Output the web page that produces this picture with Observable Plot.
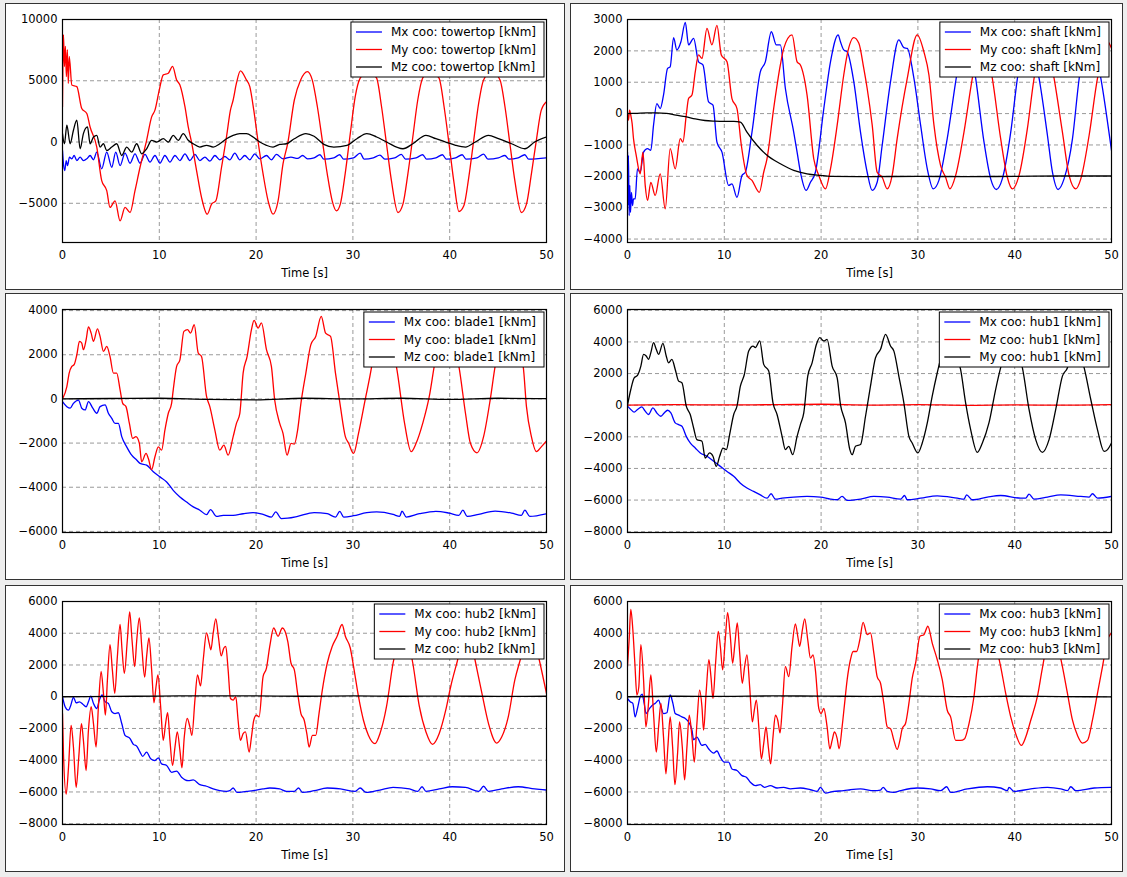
<!DOCTYPE html>
<html><head><meta charset="utf-8">
<script src="https://cdn.jsdelivr.net/npm/d3@7"></script>
<script src="https://cdn.jsdelivr.net/npm/@observablehq/plot@0.6"></script>
<style>
html,body{margin:0;padding:0;}
body{background:#eeeeee;width:1127px;height:877px;position:relative;overflow:hidden;font-family:"DejaVu Sans",sans-serif;}
.panel{position:absolute;box-sizing:border-box;border:1px solid #333;background:#fff;}
.panel svg{position:absolute;left:0;top:0;overflow:visible;}
</style></head><body>
<script>
// ---------- data (time [s], moment [kNm]) ----------
const timeTicks = [0, 10, 20, 30, 40, 50];

const towertopMx = [[0,-690],[0.1,-1780],[0.24,-2330],[0.38,-1510],[0.52,-1920],[0.72,-1230],[0.96,-1370],[1.2,-1100],[1.48,-1510],[1.82,-1230],[2.16,-1510],[2.51,-1370],[2.85,-1100],[3.2,-1450],[3.54,-820],[4.05,-2190],[4.57,-820],[5.09,-2060],[5.5,-820],[5.95,-1920],[6.46,-900],[6.98,-1730],[7.49,-960],[8.01,-1730],[8.52,-1010],[9.04,-1640],[9.55,-1100],[10.07,-1730],[10.58,-1100],[11.1,-1640],[11.62,-1100],[12.13,-1510],[12.65,-960],[13.16,-1510],[13.68,-1010],[14.19,-1510],[14.71,-1230],[15.22,-1560],[15.74,-1100],[16.25,-1450],[16.77,-1180],[17.28,-1450],[17.8,-900],[18.32,-1450],[18.83,-1100],[19.35,-1450],[19.86,-960],[20.38,-1370],[21.07,-1100],[21.58,-1450],[22.1,-1010],[22.78,-1370],[23.6,-1230],[24.29,-1340],[24.8,-1100],[25.31,-1370],[25.99,-1290],[26.6,-1040],[27.0,-1400],[28.03,-1290],[28.64,-1040],[29.05,-1400],[30.07,-1290],[30.75,-900],[31.16,-1400],[32.11,-1290],[32.79,-1070],[33.3,-1400],[34.32,-1290],[35.0,-1010],[35.44,-1400],[36.53,-1290],[37.21,-1040],[37.62,-1400],[38.57,-1290],[39.25,-1040],[39.66,-1400],[40.61,-1290],[41.29,-1040],[41.7,-1400],[42.82,-1290],[43.5,-990],[43.95,-1400],[45.03,-1290],[45.71,-1100],[46.12,-1400],[47.07,-1290],[47.76,-1040],[48.16,-1400],[50,-1290]];
const towertopMy = [[0,2880],[0.1,8770],[0.2,6160],[0.3,7810],[0.4,5340],[0.5,7530],[0.6,4790],[0.7,6990],[0.96,4660],[1.48,4520],[1.99,2740],[2.51,2330],[2.85,1230],[3.54,-410],[4.05,-3150],[4.57,-3970],[4.91,-5340],[5.43,-4800],[5.95,-6440],[6.46,-5340],[6.98,-5750],[7.49,-3970],[8.01,-2060],[8.69,140],[9.21,2050],[9.55,2600],[10.0,4250],[10.41,5480],[10.93,5620],[11.37,6170],[11.79,5070],[12.13,4660],[12.65,2880],[12.99,1230],[13.33,0],[13.85,-2330],[14.36,-4520],[14.95,-5890],[15.4,-5070],[15.84,-4800],[16.43,-2060],[16.94,410],[17.35,2600],[17.63,3430],[17.97,4800],[18.38,5810],[19.0,5070],[19.35,4520],[19.76,2600],[20.21,0],[20.72,-2600],[21.24,-4800],[21.75,-5890],[22.27,-4800],[22.78,-1780],[23.26,-140],[23.95,3430],[24.6,5070],[25.3,5750],[25.8,5070],[26.33,2880],[26.84,140],[27.35,-2600],[27.86,-4800],[28.3,-5620],[28.7,-5070],[29.2,-2600],[29.73,690],[30.24,3700],[30.75,5210],[31.6,5800],[32.45,5210],[32.96,2880],[33.47,-140],[33.98,-3150],[34.66,-5750],[35.17,-5070],[35.68,-2600],[36.19,410],[36.7,3430],[37.2,5210],[37.95,5800],[38.9,5210],[39.42,2880],[39.93,-140],[40.44,-3290],[40.95,-5670],[41.46,-5210],[41.97,-2880],[42.48,140],[42.99,3150],[43.5,5070],[44.35,5800],[45.2,5070],[45.71,2880],[46.22,-140],[46.73,-3150],[47.41,-5750],[47.93,-5070],[48.44,-2600],[48.95,140],[49.46,2600],[50,3300]];
const towertopMz = [[0,690],[0.2,-140],[0.45,1370],[0.79,-140],[1.13,960],[1.48,1780],[1.82,-550],[2.16,690],[2.58,1230],[2.85,-140],[3.2,410],[3.54,550],[3.88,-410],[4.23,-140],[4.57,-690],[5.09,-410],[5.6,-140],[6.12,-1100],[6.63,-410],[7.15,-820],[7.66,-140],[8.18,-960],[8.69,-550],[9.21,140],[9.73,0],[10.41,270],[10.93,0],[11.44,550],[11.96,140],[12.47,690],[12.99,140],[13.51,-140],[14.19,-410],[14.88,-270],[15.57,-410],[16.25,-140],[16.94,270],[17.63,550],[18.32,690],[19.0,690],[19.69,410],[20.38,0],[21.07,-270],[21.75,-410],[22.44,-190],[23.13,-140],[23.95,270],[25.14,690],[25.99,470],[27.0,-190],[28.03,-410],[29.39,-270],[30.41,270],[31.43,690],[32.45,410],[33.47,0],[35.17,-550],[36.19,-140],[37.55,550],[38.57,270],[39.59,0],[40.61,-270],[41.63,-410],[42.65,0],[44.01,550],[45.03,270],[46.39,-140],[47.76,-550],[48.78,0],[50,410]];

const shaftMx = [[0,-1230],[0.03,-2930],[0.1,-1330],[0.17,-3250],[0.24,-2290],[0.31,-3150],[0.41,-2510],[0.52,-2930],[0.62,-2720],[0.79,-2720],[1.03,-1760],[1.31,-1870],[1.66,-1230],[2.07,-1120],[2.41,-1170],[2.69,-370],[3.03,320],[3.38,160],[3.72,590],[4.14,1440],[4.41,1490],[4.76,2420],[5.1,2030],[5.52,2290],[5.97,2910],[6.31,2190],[6.83,2400],[7.34,1650],[7.79,1550],[8.38,370],[8.83,270],[9.24,-910],[9.76,-1230],[10.45,-2290],[10.79,-2240],[11.31,-2670],[11.83,-1970],[12.17,-1870],[12.86,-590],[13.72,1330],[14.24,1650],[14.86,2610],[15.38,2190],[15.79,2190],[16.31,800],[17.17,-590],[17.52,-1230],[17.93,-1970],[18.45,-2450],[18.9,-2190],[19.41,-1870],[20.28,160],[20.97,1650],[21.76,2510],[22.0,2290],[22.34,2030],[22.69,1970],[23.38,1010],[24.07,-590],[24.76,-1870],[25.28,-2450],[25.79,-2190],[26.31,-1010],[27.17,1010],[28.03,2350],[28.55,2100],[28.9,2080],[29.59,1120],[30.28,-370],[30.97,-1760],[31.59,-2400],[32.17,-2130],[33.03,-800],[33.9,1010],[34.59,2290],[34.95,2450],[35.4,2200],[35.97,1120],[36.83,-910],[37.52,-2080],[38.1,-2420],[38.72,-2080],[39.59,-590],[40.28,1120],[41.1,2450],[41.7,2200],[42.52,1120],[43.38,-690],[43.9,-1870],[44.48,-2420],[45.1,-2080],[45.97,-800],[46.66,1120],[47.5,2450],[48.1,2200],[48.9,1120],[49.59,-270],[50,-1170]];
const shaftMy = [[0,0],[0.1,-210],[0.21,110],[0.34,-50],[0.48,-320],[0.62,-800],[0.9,-1330],[1.31,-1920],[1.59,-1230],[1.83,-2290],[2.07,-2770],[2.41,-2190],[2.86,-2610],[3.38,-1920],[3.9,-3040],[4.41,-1120],[4.93,-1760],[5.45,-800],[5.72,-910],[6.07,-50],[6.31,480],[6.66,590],[7.0,1330],[7.34,1870],[7.69,1760],[8.21,2720],[8.72,2190],[9.24,2810],[9.69,1870],[10.28,1650],[10.79,480],[11.31,160],[11.76,-1010],[12.34,-1970],[12.86,-2130],[13.62,-2510],[14.07,-1870],[14.41,-1440],[15.1,160],[15.79,1550],[16.14,2080],[17.0,2510],[17.52,1650],[17.86,1550],[18.55,590],[19.24,-1440],[19.76,-1970],[20.45,-2400],[20.97,-1760],[21.66,-370],[22.34,1230],[22.69,1870],[23.38,2420],[23.9,2240],[24.41,1440],[24.76,800],[25.28,-370],[25.79,-1870],[26.31,-2030],[26.83,-2400],[27.34,-1970],[27.86,-800],[28.9,1120],[29.93,2510],[30.62,1970],[31.14,1230],[31.66,-370],[32.34,-1650],[32.86,-2030],[33.31,-2400],[33.9,-1970],[34.76,-590],[35.62,1120],[36.5,2450],[37.0,2200],[37.69,1120],[38.55,-800],[39.24,-2030],[39.76,-2400],[40.45,-1970],[41.31,-480],[42.0,1120],[42.9,2450],[43.4,2200],[44.07,1120],[44.93,-590],[45.62,-1970],[46.31,-2400],[46.83,-2080],[47.69,-690],[48.55,1120],[49.59,2290],[50,2080]];
const shaftMz = [[0,0],[1,10],[2,20],[3,20],[4,10],[5,-50],[6,-100],[7,-170],[8,-220],[9,-240],[10,-250],[11,-250],[11.66,-270],[12.34,-590],[13.38,-1010],[14.41,-1330],[15.79,-1600],[17.17,-1810],[18.55,-1920],[19.93,-1970],[21,-2000],[25,-2010],[30,-2000],[35,-2010],[40,-2000],[45,-1990],[50,-1990]];

const blade1Mx = [[0,-120],[0.45,-350],[0.79,-420],[1.13,-200],[1.65,-50],[1.99,-420],[2.34,-500],[2.68,-120],[3.13,-420],[3.54,-650],[3.88,-350],[4.4,-270],[4.74,-650],[5.09,-880],[5.43,-1110],[5.77,-1110],[6.12,-1710],[6.63,-2170],[7.15,-2550],[7.66,-2770],[8.01,-2920],[8.69,-3000],[9.38,-3300],[10.07,-3530],[10.76,-3760],[11.44,-4140],[12.13,-4440],[12.82,-4670],[13.51,-4890],[14.19,-5040],[14.88,-5240],[15.29,-5010],[15.91,-5320],[16.6,-5270],[17.63,-5270],[18.66,-5200],[19.69,-5150],[20.72,-5230],[21.58,-5350],[22.03,-5120],[22.61,-5420],[23.27,-5400],[24.29,-5320],[25.99,-5150],[27.35,-5200],[28.2,-5350],[28.64,-5090],[29.05,-5350],[30.07,-5290],[31.43,-5150],[32.45,-5120],[34.15,-5230],[34.83,-5320],[35.07,-5080],[35.51,-5350],[36.87,-5200],[38.57,-5090],[39.93,-5170],[40.95,-5270],[41.36,-5040],[41.8,-5320],[42.99,-5230],[44.69,-5080],[46.39,-5170],[47.41,-5270],[47.76,-5040],[48.27,-5320],[50,-5200]];
const blade1My = [[0,0],[0.45,560],[0.69,1170],[0.96,1470],[1.2,1550],[1.48,2000],[1.75,2610],[1.99,2530],[2.16,2230],[2.44,2680],[2.68,3260],[2.96,2980],[3.2,2610],[3.61,3170],[3.88,2830],[4.23,2150],[4.57,2380],[4.91,1920],[5.26,1170],[5.6,1170],[5.95,410],[6.22,-200],[6.56,-350],[6.91,-1110],[7.25,-1790],[7.59,-1710],[7.94,-2010],[8.18,-2850],[8.63,-2470],[8.87,-2700],[9.21,-3200],[9.55,-2620],[9.9,-2170],[10.24,-2320],[10.58,-1410],[10.93,-650],[11.27,-200],[11.44,410],[11.79,1470],[12.13,1770],[12.54,3060],[12.92,3140],[13.23,2980],[13.61,3360],[14.02,2080],[14.36,1920],[14.88,110],[15.22,-350],[15.74,-1410],[16.25,-2320],[16.67,-2090],[17.11,-2550],[17.63,-1710],[17.97,-1110],[18.32,-650],[18.66,1170],[19.07,1920],[19.52,3140],[19.79,3560],[20.21,3210],[20.55,3440],[21.07,2230],[21.58,1470],[21.92,-50],[22.44,-1110],[22.78,-1560],[23.2,-2550],[23.61,-2010],[23.95,-2050],[24.29,-1410],[24.63,-200],[25.14,1170],[25.65,2450],[26.16,2830],[26.73,3740],[27.18,2980],[27.69,2830],[28.2,1170],[28.71,-350],[29.22,-1710],[29.56,-2010],[30.07,-2470],[30.58,-1560],[31.26,-50],[31.94,1470],[32.6,3500],[33.2,3000],[34.49,1470],[35.34,-1110],[36.02,-2390],[36.53,-2010],[37.21,-1110],[37.89,110],[38.4,1470],[39.3,3500],[39.9,3000],[40.95,1470],[41.63,-650],[42.14,-2010],[42.82,-2440],[43.5,-1710],[44.18,-50],[44.69,1470],[45.8,3500],[46.5,3000],[47.59,1470],[47.93,-350],[48.44,-1710],[48.95,-2390],[49.46,-2170],[50,-1900]];
const blade1Mz = [[0,0],[5,20],[10,30],[15,-20],[20,-40],[25,30],[30,0],[35,30],[40,-20],[45,30],[50,10]];

const hub1Mx = [[0,-60],[0.34,-270],[0.69,-440],[1.03,-270],[1.48,-110],[1.83,-380],[2.17,-590],[2.62,-170],[3.03,-490],[3.45,-700],[3.79,-490],[4.14,-320],[4.48,-490],[4.93,-1120],[5.28,-1230],[5.62,-1330],[6.07,-1970],[6.48,-2390],[7.0,-2710],[7.52,-3020],[8.21,-3230],[8.9,-3550],[9.59,-3870],[10.28,-4190],[10.97,-4500],[11.66,-4930],[12.34,-5240],[13.03,-5450],[13.72,-5670],[14.41,-5880],[14.83,-5600],[15.28,-5940],[15.97,-5880],[17.17,-5810],[18.55,-5770],[19.93,-5810],[20.97,-5940],[21.66,-5980],[22.17,-5770],[22.69,-6020],[24.07,-5940],[25.45,-5770],[26.83,-5810],[28.21,-5940],[28.62,-5710],[28.9,-5980],[30.28,-5880],[32.0,-5730],[34.07,-5880],[34.76,-5940],[35.03,-5670],[35.62,-5980],[37.17,-5810],[38.55,-5710],[40.62,-5880],[41.14,-5880],[41.48,-5620],[42.0,-5940],[43.38,-5810],[44.76,-5670],[46.83,-5770],[47.69,-5810],[48.03,-5600],[48.55,-5880],[50,-5770]];
const hub1Mz = [[0,0],[5,30],[10,20],[15,30],[20,60],[25,10],[30,40],[35,-10],[40,20],[45,0],[50,30]];
const hub1My = [[0,0],[0.34,990],[0.69,1730],[1.03,1880],[1.38,2470],[1.66,3210],[1.93,3110],[2.17,2900],[2.41,3320],[2.69,3950],[2.97,3530],[3.21,3210],[3.66,3910],[4.0,3110],[4.24,2680],[4.59,2900],[4.93,2260],[5.28,1520],[5.62,1420],[6.07,-60],[6.48,-590],[6.83,-1440],[7.17,-2180],[7.69,-2280],[8.03,-3340],[8.48,-3020],[8.83,-3230],[9.17,-3870],[9.52,-3230],[9.86,-2710],[10.21,-2810],[10.55,-1860],[10.97,-590],[11.31,-60],[11.66,1200],[12.07,1940],[12.52,3420],[12.97,3740],[13.21,3640],[13.66,4060],[14.07,2580],[14.59,2160],[15.03,150],[15.45,-590],[15.97,-1970],[16.31,-2810],[16.66,-2600],[17.07,-3130],[17.52,-1970],[17.86,-1230],[18.21,-490],[18.62,1840],[19.07,2680],[19.52,3850],[19.86,4270],[20.28,4060],[20.62,4160],[21.14,2470],[21.66,1730],[22.0,40],[22.52,-1120],[22.97,-2810],[23.21,-3130],[23.55,-2600],[24.07,-2490],[24.59,-700],[25.1,1200],[25.62,3000],[26.14,3530],[26.66,4480],[27.17,3740],[27.52,3420],[28.03,1840],[28.55,150],[29.07,-1970],[29.41,-2390],[30.0,-3020],[30.45,-2390],[30.97,-1120],[31.48,570],[32.0,2050],[32.52,3320],[33.1,4100],[33.7,3500],[34.41,2260],[34.93,150],[35.45,-1540],[36.14,-2980],[36.66,-2390],[37.34,-1120],[38.03,990],[38.55,2370],[39.5,4100],[40.1,3500],[40.79,2370],[41.48,-270],[42.17,-2180],[42.86,-2980],[43.55,-2180],[44.24,-270],[44.93,1840],[45.45,2370],[46.1,4100],[46.6,3500],[47.17,2370],[47.86,360],[48.55,-1540],[49.24,-2920],[49.59,-2810],[50,-2390]];

const hub2Mx = [[0,0],[0.27,-630],[0.62,-850],[0.86,-530],[1.13,-40],[1.41,-380],[1.75,-320],[2.1,-470],[2.44,-630],[2.68,-320],[2.92,40],[3.2,-420],[3.54,-740],[3.81,-210],[4.09,110],[4.4,-320],[4.74,-420],[5.09,-950],[5.43,-1060],[5.77,-1010],[6.12,-1690],[6.46,-2430],[6.98,-2640],[7.32,-3000],[7.66,-3110],[8.01,-3490],[8.28,-3760],[8.69,-3490],[9.11,-3910],[9.55,-4020],[9.9,-3850],[10.24,-4230],[10.76,-4330],[11.27,-4760],[11.79,-4690],[12.3,-5070],[12.99,-5290],[13.51,-5240],[14.19,-5540],[14.88,-5640],[15.57,-5810],[16.25,-5920],[16.94,-5960],[17.28,-5920],[17.63,-5750],[18.04,-6030],[19.0,-5960],[19.69,-5920],[20.72,-5810],[21.41,-5750],[22.44,-5810],[23.13,-5960],[23.95,-5960],[24.39,-5750],[24.8,-6030],[25.99,-5920],[27.35,-5750],[28.71,-5810],[30.24,-5960],[30.75,-5750],[31.36,-6030],[32.79,-5880],[34.15,-5710],[35.85,-5810],[36.7,-5960],[37.14,-5670],[37.55,-5960],[38.91,-5810],[40.27,-5670],[41.63,-5710],[42.99,-5960],[43.5,-5640],[44.01,-5960],[45.37,-5810],[47.07,-5670],[48.78,-5810],[50,-5880]];
const hub2My = [[0,-1060],[0.1,-3590],[0.38,-6130],[0.62,-4440],[0.89,-1800],[1.13,-3170],[1.41,-5710],[1.68,-3810],[1.96,-1690],[2.16,-2750],[2.44,-4650],[2.68,-2110],[2.96,-630],[3.2,-1690],[3.47,-3170],[3.71,-630],[3.99,1590],[4.23,210],[4.43,-1160],[4.64,1060],[4.91,3280],[5.15,1690],[5.4,210],[5.67,2540],[5.95,4550],[6.15,2960],[6.39,1480],[6.7,3590],[6.94,5350],[7.18,3590],[7.46,1900],[7.66,3490],[7.94,4970],[8.21,2960],[8.49,1230],[8.69,2540],[8.93,3700],[9.21,1690],[9.45,-380],[9.66,630],[9.86,1370],[10.14,-630],[10.41,-2750],[10.65,-1690],[10.86,-1010],[11.1,-2750],[11.37,-4330],[11.62,-3170],[11.86,-2220],[12.13,-3380],[12.34,-4480],[12.58,-2540],[12.89,-1370],[13.16,-1900],[13.37,-2430],[13.68,-210],[13.95,1370],[14.26,680],[14.54,2330],[14.88,4020],[15.15,3380],[15.33,2960],[15.57,4020],[15.84,4900],[16.12,3700],[16.39,2580],[16.67,3070],[16.87,3170],[17.11,1690],[17.35,-110],[17.63,-210],[17.9,0],[18.14,-1480],[18.38,-2750],[18.66,-2330],[18.9,-2220],[19.28,-3490],[19.52,-2540],[19.76,-1480],[20.03,-1160],[20.31,-1270],[20.72,1270],[21.07,1800],[21.41,3170],[21.82,4330],[22.27,3810],[22.71,4330],[23.27,3490],[23.61,2110],[23.95,1690],[24.29,210],[24.63,-1060],[24.97,-1480],[25.24,-2330],[25.48,-3170],[25.82,-2430],[26.16,-2430],[26.5,-1060],[26.84,420],[27.35,2110],[27.86,3170],[28.37,3810],[28.88,4550],[29.22,3810],[29.73,3070],[30.07,1900],[30.58,0],[31.09,-1480],[31.6,-2430],[32.28,-2960],[32.79,-2330],[33.47,-630],[34.15,2110],[35.2,4300],[35.6,3800],[36.19,2110],[36.87,-630],[37.55,-2220],[38.23,-3000],[38.91,-2330],[39.59,-850],[40.1,630],[40.78,2220],[41.7,4300],[42.1,3800],[42.65,2220],[43.33,210],[44.01,-1690],[44.86,-2920],[45.37,-2540],[46.05,-1270],[46.73,1060],[47.24,2220],[48.3,4300],[48.8,3500],[49.29,2220],[50,200]];
const hub2Mz = [[0,0],[5,20],[10,40],[15,60],[20,50],[25,30],[30,50],[35,30],[40,40],[45,20],[50,30]];

const hub3Mx = [[0,-110],[0.28,-320],[0.55,-420],[0.79,-1270],[1.03,-740],[1.31,0],[1.52,170],[1.72,-420],[1.93,-1060],[2.28,-740],[2.69,-470],[2.86,-420],[3.21,-210],[3.45,-630],[3.72,-1060],[4.07,-1010],[4.41,110],[4.69,-420],[4.93,-1060],[5.28,-1160],[5.62,-1270],[5.97,-1370],[6.31,-1590],[6.66,-2110],[6.83,-2710],[7.17,-2540],[7.69,-3070],[8.03,-3000],[8.38,-3280],[8.9,-3550],[9.24,-3420],[9.59,-3810],[10.0,-4120],[10.45,-4120],[10.79,-4550],[11.31,-4650],[11.83,-4970],[12.28,-5070],[12.69,-5390],[13.21,-5600],[13.72,-5540],[14.14,-5710],[14.76,-5600],[15.45,-5750],[16.14,-5710],[16.83,-5810],[17.86,-5750],[18.9,-5860],[19.59,-5960],[19.93,-5710],[20.45,-6070],[21.31,-5960],[22.34,-5920],[23.03,-5860],[24.07,-5810],[25.45,-5920],[26.14,-5880],[26.41,-5710],[26.83,-5960],[27.52,-6030],[28.21,-5920],[29.93,-5750],[31.31,-5810],[32.34,-5920],[32.97,-5670],[33.38,-6030],[35.1,-5810],[37.17,-5670],[38.55,-5750],[39.24,-5920],[39.41,-5710],[39.93,-5960],[41.66,-5810],[43.38,-5710],[44.76,-5810],[45.45,-5920],[45.79,-5670],[46.31,-5920],[48.21,-5750],[50,-5710]];
const hub3My = [[0,1900],[0.17,3590],[0.34,5500],[0.55,4230],[0.76,2110],[0.97,110],[1.17,630],[1.38,3280],[1.66,1060],[1.9,-1900],[2.14,-630],[2.41,1370],[2.69,-1060],[2.97,-3490],[3.24,-1690],[3.45,-420],[3.72,-2540],[3.97,-4860],[4.17,-3170],[4.41,-1270],[4.66,-3170],[4.9,-5540],[5.17,-3590],[5.38,-1590],[5.66,-3170],[5.9,-5240],[6.14,-3170],[6.38,-1160],[6.66,-2540],[6.9,-4120],[7.17,-1690],[7.45,420],[7.69,-630],[7.86,-2110],[8.14,420],[8.41,2330],[8.62,1270],[8.83,-110],[9.1,2110],[9.38,4120],[9.59,3170],[9.83,1690],[10.1,3590],[10.34,5290],[10.62,3810],[10.86,2110],[11.1,3380],[11.34,4650],[11.59,2750],[11.86,850],[12.1,1900],[12.34,2640],[12.62,630],[12.9,-1590],[13.1,-850],[13.31,-210],[13.59,-2110],[13.83,-3910],[14.07,-2960],[14.31,-1900],[14.55,-3170],[14.79,-4230],[15.03,-2540],[15.28,-1160],[15.52,-1480],[15.76,-2280],[16.0,-630],[16.31,1900],[16.66,1270],[17.0,3170],[17.34,4590],[17.59,3810],[17.79,3170],[18.07,4230],[18.31,4900],[18.62,3590],[18.9,2430],[19.17,2640],[19.41,1690],[19.76,-740],[20.0,-1060],[20.28,-740],[20.62,-1900],[20.9,-3280],[21.14,-2750],[21.38,-2220],[21.66,-2640],[21.86,-3280],[22.17,-1900],[22.41,-530],[22.69,1060],[23.03,2330],[23.31,2850],[23.66,2850],[24.0,3590],[24.34,4690],[24.76,3910],[25.1,4020],[25.45,2750],[25.79,1270],[26.14,850],[26.48,-420],[26.83,-1900],[27.17,-2010],[27.52,-2750],[27.86,-3320],[28.14,-2750],[28.38,-2010],[28.72,-1690],[29.07,-420],[29.41,1160],[29.76,2110],[30.21,3810],[30.62,3910],[31.03,4440],[31.48,3380],[32.0,2330],[32.52,1060],[33.03,-850],[33.38,-1270],[33.9,-2750],[34.41,-2750],[34.83,-2640],[35.28,-1690],[35.79,0],[36.14,1900],[37.2,4500],[37.8,3800],[38.55,1900],[39.07,210],[39.59,-1270],[40.1,-2330],[40.69,-3070],[41.14,-2540],[41.66,-1480],[42.34,0],[42.86,1800],[43.8,4400],[44.3,3600],[44.93,1900],[45.45,210],[45.97,-1480],[46.48,-2430],[47.0,-2920],[47.52,-2750],[48.03,-1480],[48.55,210],[49.07,1900],[49.59,3590],[50,4020]];
const hub3Mz = [[0,0],[5,30],[10,20],[15,50],[20,40],[25,20],[30,40],[35,10],[40,30],[45,10],[50,-10]];

const towertopTicks = [-5000, 0, 5000, 10000];
const shaftTicks = [-4000, -3000, -2000, -1000, 0, 1000, 2000, 3000];
const blade1Ticks = [-6000, -4000, -2000, 0, 2000, 4000];
const hubTicks = [-8000, -6000, -4000, -2000, 0, 2000, 4000, 6000];

// ---------- panels ----------
const BLUE = "#0000ff", RED = "#ff0000", BLACK = "#000000";
const panels = [
  {left: 5, top: 3, width: 560, yDomain: [-8200, 10000], yTicks: towertopTicks,
   series: [[towertopMx, BLUE, "Mx coo: towertop [kNm]"], [towertopMy, RED, "My coo: towertop [kNm]"], [towertopMz, BLACK, "Mz coo: towertop [kNm]"]]},
  {left: 570, top: 3, width: 553, yDomain: [-4110, 3000], yTicks: shaftTicks,
   series: [[shaftMx, BLUE, "Mx coo: shaft [kNm]"], [shaftMy, RED, "My coo: shaft [kNm]"], [shaftMz, BLACK, "Mz coo: shaft [kNm]"]]},
  {left: 5, top: 293, width: 560, yDomain: [-6050, 4050], yTicks: blade1Ticks,
   series: [[blade1Mx, BLUE, "Mx coo: blade1 [kNm]"], [blade1My, RED, "My coo: blade1 [kNm]"], [blade1Mz, BLACK, "Mz coo: blade1 [kNm]"]]},
  {left: 570, top: 293, width: 553, yDomain: [-8050, 6050], yTicks: hubTicks,
   series: [[hub1Mx, BLUE, "Mx coo: hub1 [kNm]"], [hub1Mz, RED, "Mz coo: hub1 [kNm]"], [hub1My, BLACK, "My coo: hub1 [kNm]"]]},
  {left: 5, top: 585, width: 560, yDomain: [-8050, 6000], yTicks: hubTicks,
   series: [[hub2Mx, BLUE, "Mx coo: hub2 [kNm]"], [hub2My, RED, "My coo: hub2 [kNm]"], [hub2Mz, BLACK, "Mz coo: hub2 [kNm]"]]},
  {left: 570, top: 585, width: 553, yDomain: [-8050, 6000], yTicks: hubTicks,
   series: [[hub3Mx, BLUE, "Mx coo: hub3 [kNm]"], [hub3My, RED, "My coo: hub3 [kNm]"], [hub3Mz, BLACK, "Mz coo: hub3 [kNm]"]]}
];

const PANEL_H = 287, ML = 56, MT = 15, PLOT_W = 484, PLOT_H = 223;
const fmt = d3.format("d");

for (const p of panels) {
  const div = document.createElement("div");
  div.className = "panel";
  Object.assign(div.style, {left: p.left + "px", top: p.top + "px", width: p.width + "px", height: PANEL_H + "px"});
  document.body.appendChild(div);
  const W = p.width - 2, H = PANEL_H - 2;
  const MR = W - ML - PLOT_W, MB = H - MT - PLOT_H;
  const gridStyle = {stroke: "#000", strokeOpacity: 0.5, strokeWidth: 0.8, strokeDasharray: "4,3"};
  const chart = Plot.plot({
    width: W, height: H,
    marginLeft: ML, marginRight: MR, marginTop: MT, marginBottom: MB,
    x: {domain: [0, 50]},
    y: {domain: p.yDomain},
    style: {fontFamily: "'DejaVu Sans', sans-serif", fontSize: "11.5px", color: "#000", background: "transparent"},
    marks: [
      Plot.gridX(timeTicks, gridStyle),
      Plot.gridY(p.yTicks, gridStyle),
      ...p.series.map(([data, color]) => Plot.line(data, {x: d => d[0], y: d => d[1], stroke: color, strokeWidth: 1.3, curve: "monotone-x", clip: true})),
      Plot.frame({stroke: "#000", strokeWidth: 1.2}),
      Plot.axisX(timeTicks, {tickSize: 0, tickPadding: 8, tickFormat: fmt, label: null}),
      Plot.axisY(p.yTicks, {tickSize: 0, tickPadding: 5, tickFormat: fmt, label: null}),
      Plot.text(["Time [s]"], {frameAnchor: "bottom", dy: 31, lineAnchor: "middle", fontSize: 11.5})
    ]
  });
  div.appendChild(chart);

  // legend (upper right, inside the axes)
  const svg = d3.select(chart);
  const right = ML + PLOT_W - 2, top = MT + 3;
  const g = svg.append("g").attr("font-family", "'DejaVu Sans', sans-serif").attr("font-size", 12).attr("text-anchor", "start");
  const rect = g.append("rect");
  const texts = p.series.map(([, , label], i) =>
    g.append("text").attr("text-anchor", "start").attr("y", top + 10 + i * 17.5).attr("dy", "0.35em").attr("fill", "#000").text(label));
  const tw = d3.max(texts, t => t.node().getComputedTextLength());
  const bw = tw + 48, bx = right - bw;
  rect.attr("x", bx).attr("y", top).attr("width", bw).attr("height", 55)
      .attr("fill", "#fff").attr("stroke", "#000").attr("stroke-width", 1);
  texts.forEach(t => t.attr("x", bx + 40));
  p.series.forEach(([, color], i) => {
    g.append("line").attr("x1", bx + 5).attr("x2", bx + 31)
      .attr("y1", top + 10 + i * 17.5).attr("y2", top + 10 + i * 17.5)
      .attr("stroke", color).attr("stroke-width", 1.3);
  });
}
</script>
</body></html>
